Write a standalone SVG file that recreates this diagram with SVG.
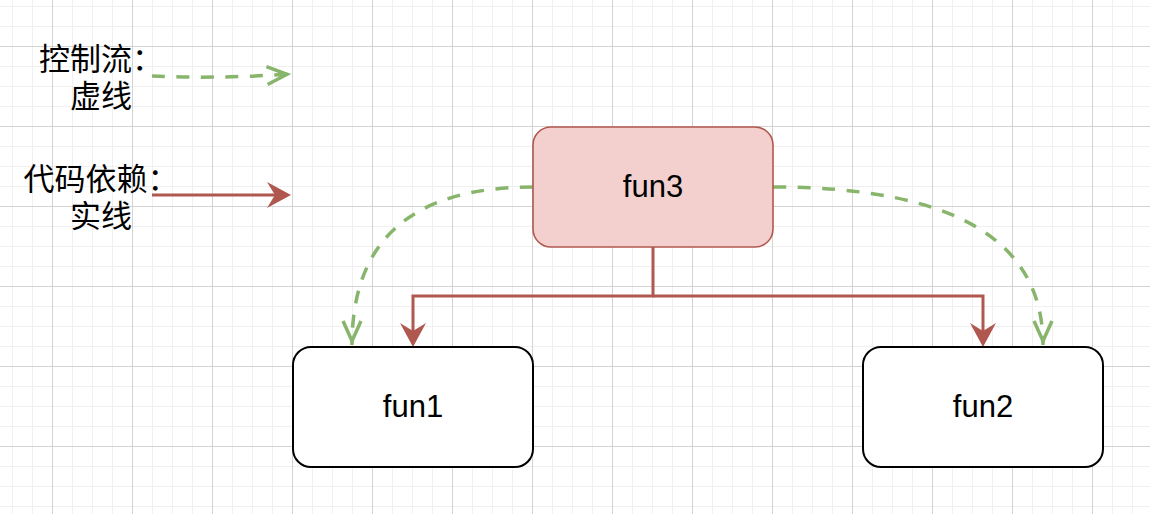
<svg xmlns="http://www.w3.org/2000/svg" width="1150" height="514" viewBox="0 0 1150 514">
  <style>
    .node-plain { fill: #ffffff; stroke: #000000; stroke-width: 2; }
    .node-red { fill: #f3d0ce; stroke: #b0584f; stroke-width: 1.6; }
    .label { font-family: "Liberation Sans", Helvetica, Arial, sans-serif; font-size: 31px; fill: #000000; text-anchor: middle; }
    .cjk { font-family: "Noto Sans CJK SC", sans-serif; font-size: 31px; fill: #000000; text-anchor: middle; }
    .dep { fill: none; stroke: #b0584f; stroke-width: 3; stroke-linejoin: miter; }
    .ctrl { fill: none; stroke: #88b56c; stroke-width: 3.5; stroke-dasharray: 13 11.5; }
  </style>
  <defs>
    <pattern id="grid" patternUnits="userSpaceOnUse" x="12" y="6" width="80" height="80">
      <rect x="0" y="0" width="80" height="80" fill="#ffffff"/>
      <rect x="0" y="0" width="1" height="80" fill="#f0f0f0"/>
      <rect x="20" y="0" width="1" height="80" fill="#f0f0f0"/>
      <rect x="60" y="0" width="1" height="80" fill="#f0f0f0"/>
      <rect x="0" y="0" width="80" height="1" fill="#f0f0f0"/>
      <rect x="0" y="20" width="80" height="1" fill="#f0f0f0"/>
      <rect x="0" y="60" width="80" height="1" fill="#f0f0f0"/>
      <rect x="40" y="0" width="1" height="80" fill="#d3d3d3"/>
      <rect x="0" y="40" width="80" height="1" fill="#d3d3d3"/>
    </pattern>
    <marker id="redArrow" markerUnits="userSpaceOnUse" markerWidth="30" markerHeight="30" viewBox="-10 -15 30 30" refX="0" refY="0" orient="auto" overflow="visible">
      <path d="M16,0 L-8,-13 L0,0 L-8,13 Z" fill="#b0584f"/>
    </marker>
    <marker id="greenArrow" markerUnits="userSpaceOnUse" markerWidth="30" markerHeight="30" viewBox="-28 -15 30 30" refX="0" refY="0" orient="auto" overflow="visible">
      <path d="M-24,-9 L-4,0 L-24,9" fill="none" stroke="#88b56c" stroke-width="3.5" stroke-linejoin="miter"/>
    </marker>
  </defs>

  <rect x="0" y="0" width="1150" height="514" fill="url(#grid)"/>

  <g id="legend">
    <text class="cjk" x="101" y="70"><tspan x="101" y="70">控制流：</tspan><tspan x="101" y="107">虚线</tspan></text>
    <text class="cjk" x="101" y="190"><tspan x="101" y="190">代码依赖：</tspan><tspan x="101" y="227">实线</tspan></text>
  </g>

  <g id="connectors">
    <path class="ctrl" d="M152,76 Q215,79 291,74" marker-end="url(#greenArrow)"/>
    <path class="dep" d="M152,195 H275" marker-end="url(#redArrow)"/>
    <path class="dep" d="M653,247 V296 H413 V331" marker-end="url(#redArrow)"/>
    <path class="dep" d="M653,296 H983 V331" marker-end="url(#redArrow)"/>
    <path class="ctrl" d="M533,187 Q352,187 352,345" marker-end="url(#greenArrow)"/>
    <path class="ctrl" d="M773,187 Q1043,187 1043,345" marker-end="url(#greenArrow)"/>
  </g>

  <g id="fun3">
    <rect class="node-red" x="533" y="127" width="240" height="120" rx="18" ry="18"/>
    <text class="label" x="653" y="197">fun3</text>
  </g>
  <g id="fun1">
    <rect class="node-plain" x="293" y="347" width="240" height="120" rx="18" ry="18"/>
    <text class="label" x="413" y="417">fun1</text>
  </g>
  <g id="fun2">
    <rect class="node-plain" x="863" y="347" width="240" height="120" rx="18" ry="18"/>
    <text class="label" x="983" y="417">fun2</text>
  </g>
</svg>
